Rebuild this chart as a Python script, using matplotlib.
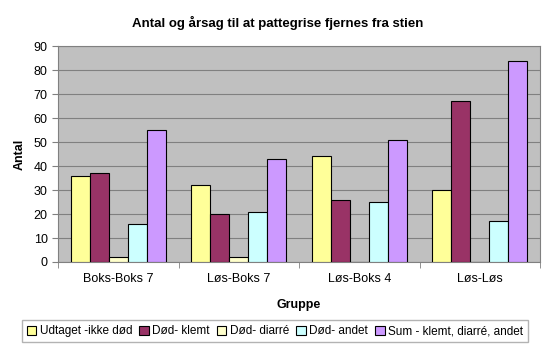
import matplotlib.pyplot as plt
import numpy as np

plt.rcParams['font.family'] = ['Liberation Sans', 'DejaVu Sans']

grupper = ["Boks-Boks 7", "Løs-Boks 7", "Løs-Boks 4", "Løs-Løs"]
serier = ["Udtaget -ikke død", "Død- klemt", "Død- diarré", "Død- andet",
          "Sum - klemt, diarré, andet"]
udtaget = [36, 32, 44, 30]
klemt = [37, 20, 26, 67]
diarre = [2, 2, 0, 0]
andet = [16, 21, 25, 17]
total = [55, 43, 51, 84]
farver = ["#FFFF99", "#993366", "#FFFFCC", "#CCFFFF", "#CC99FF"]

fig = plt.figure(figsize=(5.5, 3.52), dpi=100)
ax = fig.add_axes([0.1055, 0.2557, 0.8765, 0.6133])
ax.set_facecolor("#C0C0C0")

x = np.arange(len(grupper))
w = 0.158
for i, (navn, vals) in enumerate(zip(serier, [udtaget, klemt, diarre, andet, total])):
    ax.bar(x + (i - 2) * w, vals, w, color=farver[i], edgecolor="black",
           linewidth=0.8, label=navn, zorder=3)

ax.set_xlim(-0.5, 3.5)
ax.set_ylim(0, 90)
ax.set_yticks(range(0, 91, 10))
ax.yaxis.grid(True, color="#808080", linewidth=0.8, zorder=0)
ax.set_xticks(x)
ax.set_xticklabels(grupper)
ax.set_xticks(np.arange(-0.5, 4, 1), minor=True)
ax.tick_params(axis="x", which="major", length=0, pad=8, labelsize=9)
ax.tick_params(axis="x", which="minor", length=4, color="#808080")
ax.tick_params(axis="y", length=4, labelsize=9, color="#808080")

for s in ["top", "right", "left", "bottom"]:
    ax.spines[s].set_color("#808080")

ax.set_ylabel("Antal", fontsize=9, fontweight="bold", labelpad=6)
ax.set_xlabel("Gruppe", fontsize=9, fontweight="bold", labelpad=10)
fig.suptitle("Antal og årsag til at pattegrise fjernes fra stien",
             fontsize=9.5, fontweight="bold", x=0.505, y=0.955)

leg = fig.legend(loc="lower center", bbox_to_anchor=(0.5, 0.012), ncol=5,
                 fontsize=8.5, frameon=True, fancybox=False, edgecolor="#A0A0A0",
                 handlelength=0.8, handleheight=0.8, handletextpad=0.3,
                 columnspacing=0.6, borderpad=0.4)

fig.savefig("out.png", dpi=100)
